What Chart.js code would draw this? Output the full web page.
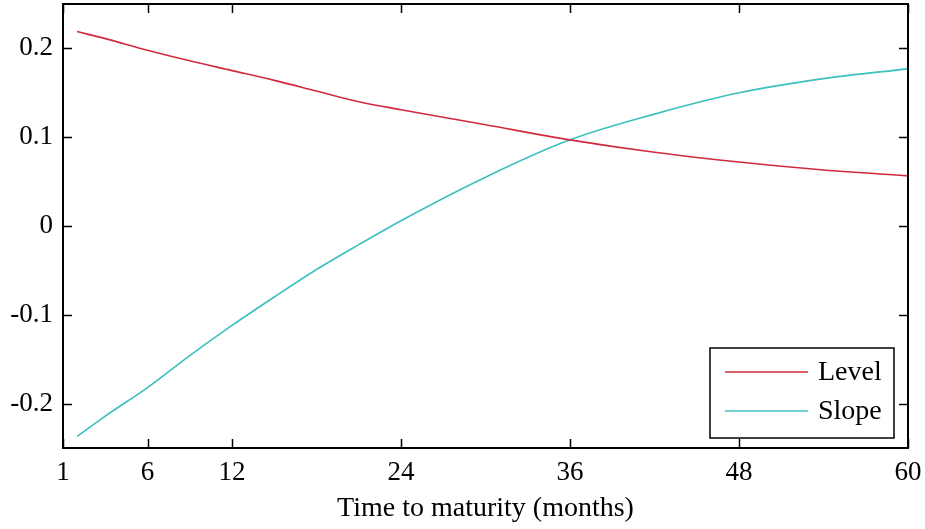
<!DOCTYPE html>
<html lang="en">
<head>
  <meta charset="UTF-8">
  <title>Level and Slope loadings</title>
  <script src="https://cdn.jsdelivr.net/npm/chart.js"></script>
  <style>
    html, body { margin: 0; padding: 0; background: #fff; }
    #wrap { width: 925px; height: 529px; }
  </style>
</head>
<body>
<div id="wrap"><canvas id="chart" width="925" height="529"></canvas></div>
<script>
  // maturities (months) and loadings
  const months = [1, 3, 6, 9, 12, 15, 18, 21, 24, 30, 36, 42, 48, 54, 60];
  const level  = [0.219, 0.211, 0.198, 0.186, 0.175, 0.164, 0.152, 0.140, 0.131, 0.114, 0.097, 0.083, 0.072, 0.063, 0.0565];
  const slope  = [-0.237, -0.214, -0.182, -0.146, -0.112, -0.080, -0.049, -0.021, 0.006, 0.055, 0.097, 0.126, 0.150, 0.166, 0.177];

  const xTickValues = [0, 6, 12, 24, 36, 48, 60];
  const xTickLabels = ['1', '6', '12', '24', '36', '48', '60'];
  const yTickValues = [-0.2, -0.1, 0, 0.1, 0.2];
  const yTickLabels = ['-0.2', '-0.1', '0', '0.1', '0.2'];

  const FONT = 'Liberation Serif, Times New Roman, serif';

  // frame, inward ticks on all four sides and the boxed legend
  const framePlugin = {
    id: 'frame',
    afterDraw(chart) {
      const { ctx, chartArea: a, scales } = chart;
      const len = 9;
      ctx.save();
      ctx.strokeStyle = '#000';
      ctx.lineWidth = 2;
      ctx.strokeRect(a.left, a.top, a.right - a.left, a.bottom - a.top);
      ctx.beginPath();
      xTickValues.forEach(v => {
        const x = Math.round(scales.x.getPixelForValue(v)) + 0.5;
        ctx.moveTo(x, a.bottom); ctx.lineTo(x, a.bottom - len);
        ctx.moveTo(x, a.top); ctx.lineTo(x, a.top + len);
      });
      yTickValues.forEach(v => {
        const y = Math.round(scales.y.getPixelForValue(v)) + 0.5;
        ctx.moveTo(a.left, y); ctx.lineTo(a.left + len, y);
        ctx.moveTo(a.right, y); ctx.lineTo(a.right - len, y);
      });
      ctx.lineWidth = 1.5;
      ctx.stroke();

      // legend box in the lower right corner
      const bw = 184, bh = 90;
      const bx = a.right - 198, by = a.bottom - 100;
      ctx.fillStyle = '#fff';
      ctx.fillRect(bx, by, bw, bh);
      ctx.lineWidth = 1.5;
      ctx.strokeStyle = '#000';
      ctx.strokeRect(bx, by, bw, bh);
      ctx.font = '28px ' + FONT;
      ctx.textBaseline = 'middle';
      ctx.textAlign = 'left';
      chart.data.datasets.forEach((ds, i) => {
        const y = by + 24 + i * 39;
        ctx.strokeStyle = ds.borderColor;
        ctx.lineWidth = 1.5;
        ctx.beginPath();
        ctx.moveTo(bx + 15, y); ctx.lineTo(bx + 98, y);
        ctx.stroke();
        ctx.fillStyle = '#000';
        ctx.fillText(ds.label, bx + 108, y + 1);
      });
      ctx.restore();
    }
  };

  new Chart(document.getElementById('chart'), {
    type: 'line',
    data: {
      datasets: [
        {
          label: 'Level',
          data: months.map((m, i) => ({ x: m, y: level[i] })),
          borderColor: '#d02a3e',
          borderWidth: 1.6,
          pointRadius: 0,
          cubicInterpolationMode: 'monotone',
          fill: false
        },
        {
          label: 'Slope',
          data: months.map((m, i) => ({ x: m, y: slope[i] })),
          borderColor: '#3cbfbf',
          borderWidth: 1.6,
          pointRadius: 0,
          cubicInterpolationMode: 'monotone',
          fill: false
        }
      ]
    },
    options: {
      responsive: false,
      animation: false,
      layout: { padding: { top: 4, right: 17, left: 0, bottom: 0 } },
      plugins: {
        legend: { display: false },
        tooltip: { enabled: false }
      },
      scales: {
        x: {
          type: 'linear',
          min: 0,
          max: 60,
          afterBuildTicks: s => { s.ticks = xTickValues.map(v => ({ value: v })); },
          afterFit: s => { s.height = 81; s.paddingLeft = 0; s.paddingRight = 0; },
          grid: { display: false, drawTicks: false },
          border: { display: false },
          ticks: {
            padding: 9,
            color: '#000',
            font: { family: FONT, size: 27 },
            maxRotation: 0,
            callback: v => xTickLabels[xTickValues.indexOf(v)]
          },
          title: {
            display: true,
            text: 'Time to maturity (months)',
            color: '#000',
            font: { family: FONT, size: 28 },
            padding: { top: 0, bottom: 4 }
          }
        },
        y: {
          min: -0.25,
          max: 0.25,
          afterBuildTicks: s => { s.ticks = yTickValues.map(v => ({ value: v })); },
          afterFit: s => { s.width = 63; s.paddingTop = 0; s.paddingBottom = 0; },
          grid: { display: false, drawTicks: false },
          border: { display: false },
          ticks: {
            padding: 10,
            color: '#000',
            font: { family: FONT, size: 27 },
            callback: v => yTickLabels[yTickValues.findIndex(t => Math.abs(t - v) < 1e-9)]
          }
        }
      }
    },
    plugins: [framePlugin]
  });
</script>
</body>
</html>
